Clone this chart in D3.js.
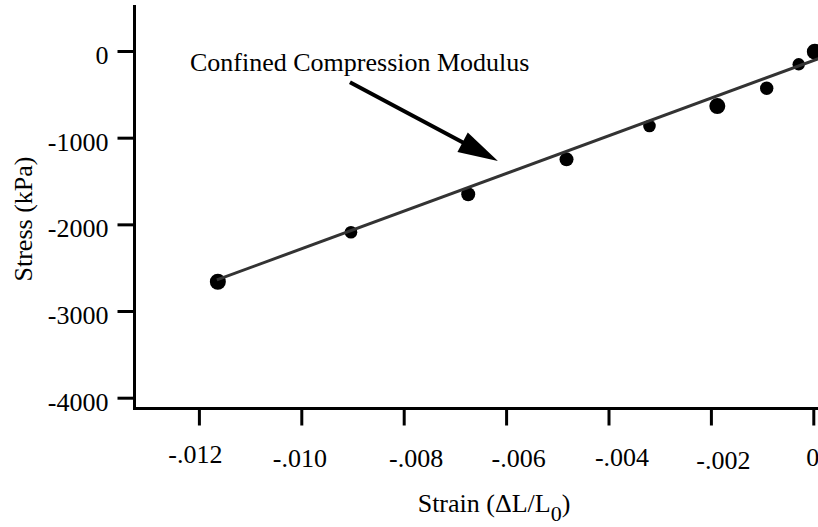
<!DOCTYPE html>
<html>
<head>
<meta charset="utf-8">
<script src="https://cdn.jsdelivr.net/npm/d3@7"></script>
<style>
  body { margin: 0; background: #fff; }
</style>
</head>
<body>
<div id="chart"></div>
<script>
// measured points
const strain = [-0.01163, -0.00903, -0.00674, -0.00482, -0.00320, -0.001875, -0.00091, -0.000285, 0.00003];
const stress = [-2662, -2092, -1653, -1250, -865, -635, -430, -153, -8];

// fitted line ends
const fitStrain = [-0.01165, 0.0001];
const fitStress = [-2641, -89];

const xTicks = [-0.012, -0.010, -0.008, -0.006, -0.004, -0.002, 0];
const xTickLabels = ["-.012", "-.010", "-.008", "-.006", "-.004", "-.002", "0"];
const yTicks = [0, -1000, -2000, -3000, -4000];
const yTickLabels = ["0", "-1000", "-2000", "-3000", "-4000"];

const noteText = "Confined Compression Modulus";
const noteAt = [-0.012174, -227];
const arrowFrom = [-0.00905, -360];
const arrowTo = [-0.00616, -1270];

// marker radii and label nudges (style only)
const dotR = [8, 6.3, 7, 7, 6.3, 8, 6.7, 6.2, 8];
const xLabelDx = [-4, -2, 12, 12, 13, 12, -1];
const xLabelDy = [54.5, 58.5, 58.2, 58.2, 57.5, 60.5, 57.5];

const width = 818, height = 527;
const axisX0 = 134.5, axisY0 = 408.5;
const serif = '"Liberation Serif", "Times New Roman", Times, serif';

const svg = d3.select("#chart")
    .append("svg")
    .attr("width", width)
    .attr("height", height);

const x = d3.scaleLinear().domain([-0.012, 0]).range([198.9, 813.3]);
const y = d3.scaleLinear().domain([-4000, 0]).range([397.7, 51]);

// x axis
const gx = svg.append("g")
    .attr("transform", `translate(0,${axisY0})`)
    .call(d3.axisBottom(x)
        .tickValues(xTicks)
        .tickFormat((d, i) => xTickLabels[i])
        .tickSize(17)
        .tickSizeOuter(0))
    .call(g => g.select(".domain").remove());
gx.selectAll(".tick line").attr("stroke", "#000").attr("stroke-width", 3);
gx.selectAll(".tick text")
    .style("font-family", serif)
    .style("font-size", "26px")
    .attr("fill", "#000")
    .attr("dy", 0)
    .attr("x", (d, i) => xLabelDx[i])
    .attr("y", (d, i) => xLabelDy[i]);

// y axis
const gy = svg.append("g")
    .attr("transform", `translate(${axisX0},0)`)
    .call(d3.axisLeft(y)
        .tickValues(yTicks)
        .tickFormat((d, i) => yTickLabels[i])
        .tickSize(17)
        .tickPadding(9)
        .tickSizeOuter(0))
    .call(g => g.select(".domain").remove());
gy.selectAll(".tick line").attr("stroke", "#000").attr("stroke-width", 3);
gy.selectAll(".tick text")
    .style("font-family", serif)
    .style("font-size", "26px")
    .attr("fill", "#000")
    .attr("dy", "0.48em");

// axis lines
svg.append("line")
    .attr("x1", axisX0).attr("x2", axisX0)
    .attr("y1", 5).attr("y2", axisY0 + 1.5)
    .attr("stroke", "#000").attr("stroke-width", 3);
svg.append("line")
    .attr("x1", axisX0 - 1.5).attr("x2", width)
    .attr("y1", axisY0).attr("y2", axisY0)
    .attr("stroke", "#000").attr("stroke-width", 3);

// points
const pts = strain.map((s, i) => ({ s, p: stress[i], r: dotR[i] }));
svg.append("g")
    .selectAll("circle")
    .data(pts)
    .join("circle")
    .attr("cx", d => x(d.s))
    .attr("cy", d => y(d.p))
    .attr("r", d => d.r)
    .attr("fill", "#000");

// fit line over the points
const fit = fitStrain.map((s, i) => [s, fitStress[i]]);
svg.append("path")
    .datum(fit)
    .attr("d", d3.line().x(d => x(d[0])).y(d => y(d[1])))
    .attr("fill", "none")
    .attr("stroke", "#333")
    .attr("stroke-width", 3);

// annotation
svg.append("text")
    .attr("x", x(noteAt[0]))
    .attr("y", y(noteAt[1]))
    .style("font-family", serif)
    .style("font-size", "26px")
    .text(noteText);

const ax0 = x(arrowFrom[0]), ay0 = y(arrowFrom[1]);
const ax1 = x(arrowTo[0]), ay1 = y(arrowTo[1]);
const len = Math.hypot(ax1 - ax0, ay1 - ay0);
const ux = (ax1 - ax0) / len, uy = (ay1 - ay0) / len;
const headLen = 40, headHalf = 11;
const bx = ax1 - ux * headLen, by = ay1 - uy * headLen;
svg.append("line")
    .attr("x1", ax0).attr("y1", ay0)
    .attr("x2", bx + ux * 2).attr("y2", by + uy * 2)
    .attr("stroke", "#000").attr("stroke-width", 4);
svg.append("path")
    .attr("d", `M${ax1},${ay1}L${bx - uy * headHalf},${by + ux * headHalf}L${bx + uy * headHalf},${by - ux * headHalf}Z`)
    .attr("fill", "#000");

// axis titles
const xt = svg.append("text")
    .attr("x", 494)
    .attr("y", 512)
    .attr("text-anchor", "middle")
    .style("font-family", serif)
    .style("font-size", "26px");
xt.append("tspan").text("Strain (\u0394L/L");
xt.append("tspan").attr("dy", 9).style("font-size", "22px").text("0");
xt.append("tspan").attr("dy", -9).text(")");

svg.append("text")
    .attr("transform", "translate(32,219) rotate(-90)")
    .attr("text-anchor", "middle")
    .style("font-family", serif)
    .style("font-size", "26px")
    .text("Stress (kPa)");
</script>
</body>
</html>
